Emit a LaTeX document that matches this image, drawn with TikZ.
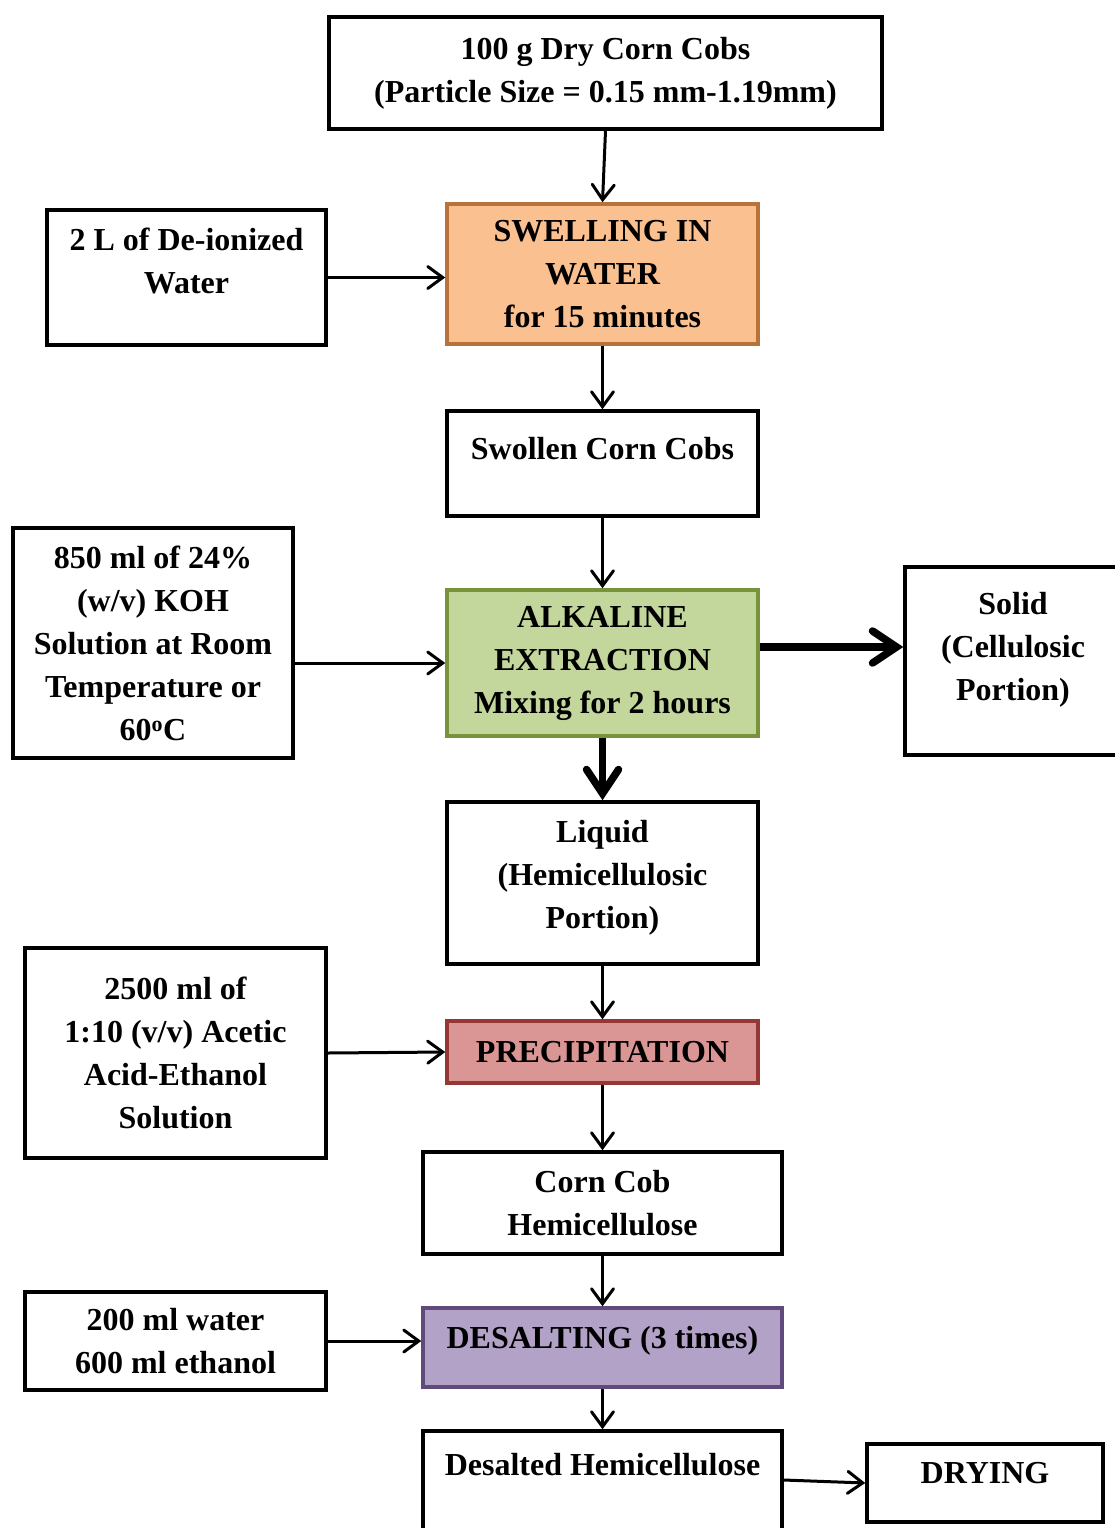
\documentclass[tikz,border=0pt]{standalone}
\usepackage{fontspec}
\setmainfont{Liberation Serif}
\usetikzlibrary{arrows.meta}
\definecolor{swellfill}{HTML}{FAC090}
\definecolor{swelldraw}{HTML}{B8733A}
\definecolor{alkfill}{HTML}{C3D69B}
\definecolor{alkdraw}{HTML}{77933C}
\definecolor{precfill}{HTML}{D99694}
\definecolor{precdraw}{HTML}{953735}
\definecolor{desfill}{HTML}{B3A2C7}
\definecolor{desdraw}{HTML}{604A7B}
\tikzset{
  box/.style={draw=black, line width=3.5pt, align=center, inner sep=0pt,
    font=\fontsize{32}{43}\selectfont\bfseries},
  conn/.style={line width=3pt, -{Straight Barb[length=15pt,width=22pt,line cap=round]}},
  thickconn/.style={line width=7.5pt, -{Straight Barb[length=24pt,width=32pt,line cap=round]}},
}
\begin{document}
\begin{tikzpicture}[x=1pt,y=-1pt]
\useasboundingbox (0,0) rectangle (1114,1528);
\node[box, minimum width=553pt, minimum height=112pt] (top) at (605.5,73)
  {100 g Dry Corn Cobs\\(Particle Size = 0.15 mm-1.19mm)};
\node[box, minimum width=279pt, minimum height=135pt, text depth=34pt] (water) at (186.5,277.5)
  {2 L of De-ionized\\Water};
\node[box, draw=swelldraw, fill=swellfill, minimum width=311pt, minimum height=140pt] (swell) at (602.5,274)
  {SWELLING IN\\WATER\\for 15 minutes};
\node[box, minimum width=311pt, minimum height=105pt, text depth=30pt] (swollen) at (602.5,463.5)
  {Swollen Corn Cobs};
\node[box, minimum width=280pt, minimum height=230pt] (koh) at (153,643)
  {850 ml of 24\%\\(w/v) KOH\\Solution at Room\\Temperature or\\60\textsuperscript{\fontsize{22}{22}\selectfont o}C};
\node[box, draw=alkdraw, fill=alkfill, minimum width=311pt, minimum height=146pt] (alk) at (602.5,663)
  {ALKALINE\\EXTRACTION\\Mixing for 2 hours};
\node[box, minimum width=216pt, minimum height=188pt, text depth=30pt] (solid) at (1013,661)
  {Solid\\(Cellulosic\\Portion)};
\node[box, minimum width=311pt, minimum height=162pt, text depth=18pt] (liquid) at (602.5,883)
  {Liquid\\(Hemicellulosic\\Portion)};
\node[box, minimum width=301pt, minimum height=210pt] (acetic) at (175.5,1053)
  {2500 ml of\\1:10 (v/v) Acetic\\Acid-Ethanol\\Solution};
\node[box, draw=precdraw, fill=precfill, minimum width=311pt, minimum height=62pt] (precip) at (602.5,1052)
  {PRECIPITATION};
\node[box, minimum width=359pt, minimum height=102pt] (corncob) at (602.5,1203)
  {Corn Cob\\Hemicellulose};
\node[box, minimum width=301pt, minimum height=98pt] (water2) at (175.5,1341)
  {200 ml water\\600 ml ethanol};
\node[box, draw=desdraw, fill=desfill, minimum width=359pt, minimum height=79pt, text depth=20pt] (desalt) at (602.5,1347.5)
  {DESALTING (3 times)};
\node[box, minimum width=359pt, minimum height=110pt, text depth=44pt] (desalted) at (602.5,1486)
  {Desalted Hemicellulose};
\node[box, minimum width=236pt, minimum height=78pt, text depth=20pt] (drying) at (985,1483)
  {DRYING};
% connectors
\draw[conn] (top.south) -- (swell.north);
\draw[conn] (water.east) -- (water.east -| swell.west);
\draw[conn] (swell.south) -- (swollen.north);
\draw[conn] (swollen.south) -- (alk.north);
\draw[conn] (alk.west -| koh.east) -- (alk.west);
\draw[thickconn] ([yshift=16pt]alk.east) -- ([yshift=16pt]alk.east -| solid.west);
\draw[thickconn] (alk.south) -- (liquid.north);
\draw[conn] (liquid.south) -- (precip.north);
\draw[conn] (acetic.east) -- (precip.west);
\draw[conn] (precip.south) -- (corncob.north);
\draw[conn] (corncob.south) -- (desalt.north);
\draw[conn] (water2.east) -- (water2.east -| desalt.west);
\draw[conn] (desalt.south) -- (desalted.north);
\draw[conn] ([yshift=6pt]desalted.east) -- (drying.west);
\end{tikzpicture}
\end{document}
